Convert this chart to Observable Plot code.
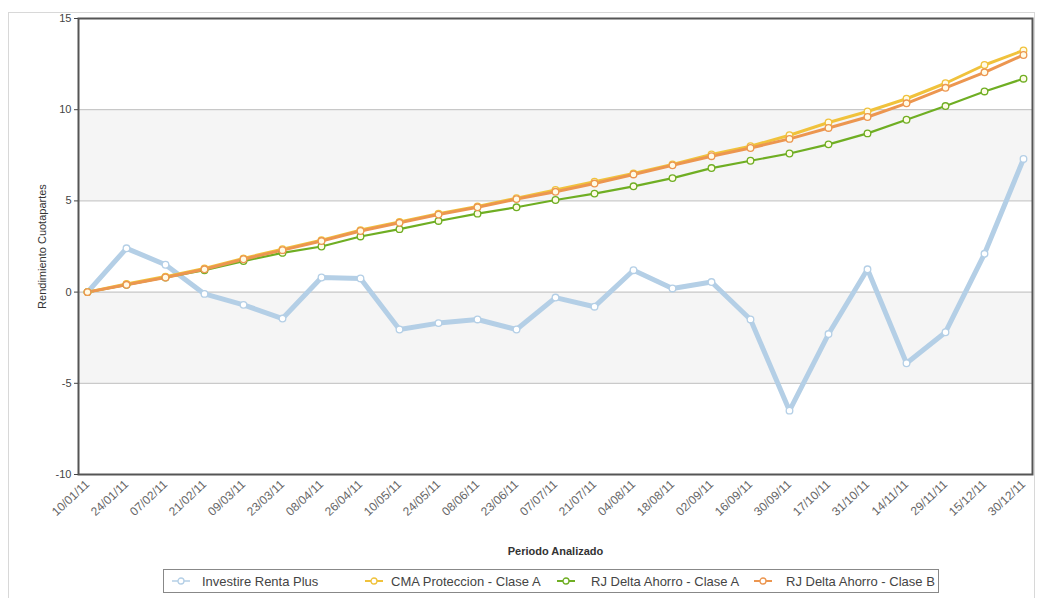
<!DOCTYPE html>
<html>
<head>
<meta charset="utf-8">
<script src="https://cdn.jsdelivr.net/npm/d3@7"></script>
<script src="https://cdn.jsdelivr.net/npm/@observablehq/plot@0.6"></script>
<style>
  html, body { margin: 0; padding: 0; background: #fff; }
  body { width: 1038px; height: 598px; position: relative; overflow: hidden; font-family: "Liberation Sans", Arial, sans-serif; }
  #outer { position: absolute; left: 8px; top: 12px; width: 1027px; height: 600px; border: 1px solid #d8d8d8; box-sizing: border-box; }
  #chart { position: absolute; left: 0; top: 0; }
  #chart svg { font-family: "Liberation Sans", Arial, sans-serif; overflow: visible; }
  g[aria-label="x-axis label"] text { font-weight: bold; font-size: 11px; fill: #333; }
  g[aria-label="y-axis label"] text { font-size: 11px; fill: #333; }
  #legend { position: absolute; left: 163px; top: 569px; width: 776px; height: 24px; border: 1px solid #888; box-sizing: border-box; font-size: 13px; color: #444; background: #fff; }
  .icon { position: absolute; top: 4px; }
  .label { position: absolute; top: 4px; line-height: 15px; white-space: nowrap; }
</style>
</head>
<body>
<div id="outer"></div>
<div id="chart"></div>
<div id="legend"></div>
<script>
const dates = ["10/01/11","24/01/11","07/02/11","21/02/11","09/03/11","23/03/11","08/04/11","26/04/11","10/05/11","24/05/11","08/06/11","23/06/11","07/07/11","21/07/11","04/08/11","18/08/11","02/09/11","16/09/11","30/09/11","17/10/11","31/10/11","14/11/11","29/11/11","15/12/11","30/12/11"];

const investire = [0, 2.4, 1.5, -0.1, -0.7, -1.45, 0.8, 0.75, -2.05, -1.7, -1.5, -2.05, -0.3, -0.8, 1.2, 0.2, 0.55, -1.5, -6.5, -2.3, 1.25, -3.9, -2.2, 2.1, 7.3];
const cmaA      = [0, 0.45, 0.85, 1.3, 1.85, 2.35, 2.85, 3.4, 3.85, 4.3, 4.7, 5.15, 5.6, 6.05, 6.5, 7.0, 7.55, 8.0, 8.6, 9.3, 9.9, 10.6, 11.45, 12.45, 13.25];
const rjA       = [0, 0.4, 0.8, 1.2, 1.7, 2.15, 2.5, 3.05, 3.45, 3.9, 4.3, 4.65, 5.05, 5.4, 5.8, 6.25, 6.8, 7.2, 7.6, 8.1, 8.7, 9.45, 10.2, 11.0, 11.7];
const rjB       = [0, 0.4, 0.8, 1.25, 1.8, 2.3, 2.8, 3.35, 3.8, 4.25, 4.65, 5.1, 5.5, 5.95, 6.45, 6.95, 7.45, 7.9, 8.4, 9.0, 9.6, 10.35, 11.2, 12.05, 13.0];

const seriesNames = ["Investire Renta Plus", "CMA Proteccion - Clase A", "RJ Delta Ahorro - Clase A", "RJ Delta Ahorro - Clase B"];
const seriesColors = ["#b4cfe6", "#f0c23c", "#6fae23", "#ec9650"];
const seriesValues = [investire, cmaA, rjA, rjB];
const yTicks = [-10, -5, 0, 5, 10, 15];
const bands = [{lo: 5, hi: 10}, {lo: -5, hi: 0}];

const rows = (i) => dates.map((d, k) => ({date: d, value: seriesValues[i][k]}));

const lineWidths = [5, 3, 2.2, 3];
const drawOrder = [0, 2, 1, 3];

const marks = [
  Plot.rect(bands, {y1: "lo", y2: "hi", fill: "#f5f5f5"}),
  Plot.gridY(yTicks, {stroke: "#bdbdbd", strokeOpacity: 1, strokeWidth: 1})
];
for (const i of drawOrder) {
  marks.push(Plot.line(rows(i), {x: "date", y: "value", stroke: seriesColors[i], strokeWidth: lineWidths[i], strokeLinejoin: "round"}));
}
for (const i of drawOrder) {
  marks.push(Plot.dot(rows(i), {x: "date", y: "value", r: 3.3, fill: i === 0 ? "#ffffff" : "#fffbe6", stroke: seriesColors[i], strokeWidth: 1.3}));
}
marks.push(Plot.frame({stroke: "#555", strokeWidth: 2}));
marks.push(Plot.axisY(yTicks, {tickSize: 4, tickPadding: 3, fontSize: 11, color: "#444", tickFormat: d => String(d), label: "Rendimiento Cuotapartes", labelAnchor: "center", labelOffset: 40, labelArrow: "none"}));
marks.push(Plot.axisX({tickSize: 0, tickPadding: 8, tickRotate: -43, fontSize: 12, color: "#666", label: "Periodo Analizado", labelAnchor: "center", labelOffset: 80, labelArrow: "none"}));

const chart = Plot.plot({
  width: 1038,
  height: 565,
  marginLeft: 78,
  marginRight: 6,
  marginTop: 18,
  marginBottom: 91,
  x: {type: "point", domain: dates, padding: 0},
  y: {domain: [-10, 15]},
  marks
});
document.getElementById("chart").appendChild(chart);

const legend = document.getElementById("legend");
const iconLeft = [7, 200, 392, 589];
const textLeft = [38, 227, 427, 622];
seriesNames.forEach((name, i) => {
  const icon = document.createElement("div");
  icon.className = "icon";
  icon.style.left = iconLeft[i] + "px";
  icon.innerHTML = `<svg width="20" height="14"><line x1="1" y1="7" x2="19" y2="7" stroke="${seriesColors[i]}" stroke-width="${i === 0 ? 1.5 : 2}"/><circle cx="10" cy="7" r="3" fill="#fff" stroke="${seriesColors[i]}" stroke-width="1.3"/></svg>`;
  legend.appendChild(icon);
  const label = document.createElement("div");
  label.className = "label";
  label.style.left = textLeft[i] + "px";
  label.textContent = name;
  legend.appendChild(label);
});
</script>
</body>
</html>
